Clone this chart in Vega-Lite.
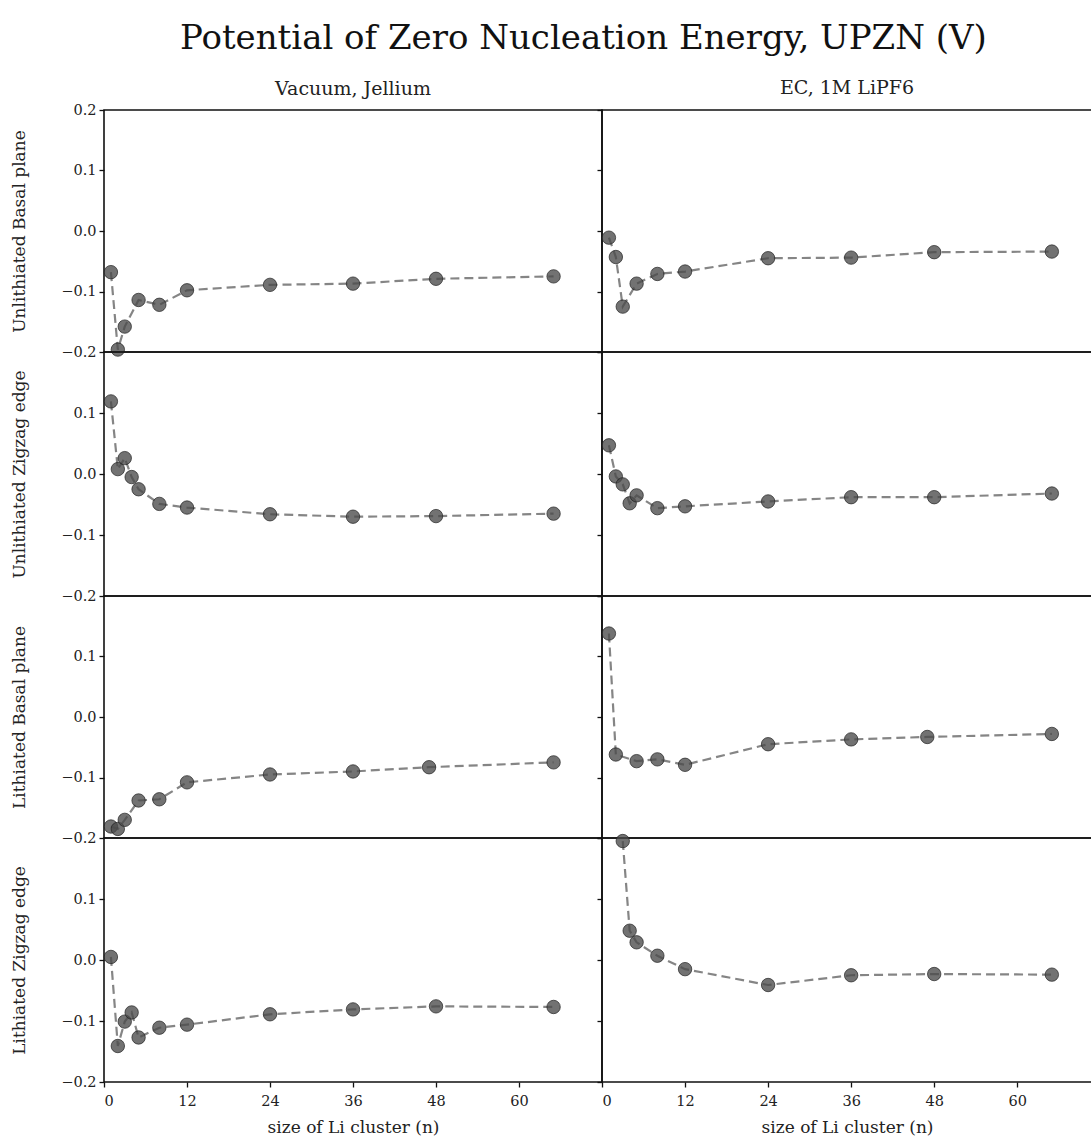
{
  "$schema": "https://vega.github.io/schema/vega-lite/v6.json",
  "padding": {"left": 9, "top": 21, "right": 0, "bottom": 0},
  "background": "white",
  "title": {"text": "Potential of Zero Nucleation Energy, UPZN (V)", "font": "DejaVu Serif", "fontSize": 34, "fontWeight": "normal", "color": "#111", "anchor": "middle", "offset": 23, "dx": 32},
  "data": {"values": [
    {"surface": "Unlithiated Basal plane", "env": "Vacuum, Jellium", "n": 1, "U": -0.068},
    {"surface": "Unlithiated Basal plane", "env": "Vacuum, Jellium", "n": 2, "U": -0.196},
    {"surface": "Unlithiated Basal plane", "env": "Vacuum, Jellium", "n": 3, "U": -0.158},
    {"surface": "Unlithiated Basal plane", "env": "Vacuum, Jellium", "n": 5, "U": -0.114},
    {"surface": "Unlithiated Basal plane", "env": "Vacuum, Jellium", "n": 8, "U": -0.122},
    {"surface": "Unlithiated Basal plane", "env": "Vacuum, Jellium", "n": 12, "U": -0.098},
    {"surface": "Unlithiated Basal plane", "env": "Vacuum, Jellium", "n": 24, "U": -0.089},
    {"surface": "Unlithiated Basal plane", "env": "Vacuum, Jellium", "n": 36, "U": -0.087},
    {"surface": "Unlithiated Basal plane", "env": "Vacuum, Jellium", "n": 48, "U": -0.079},
    {"surface": "Unlithiated Basal plane", "env": "Vacuum, Jellium", "n": 65, "U": -0.075},
    {"surface": "Unlithiated Basal plane", "env": "EC, 1M LiPF6", "n": 1, "U": -0.011},
    {"surface": "Unlithiated Basal plane", "env": "EC, 1M LiPF6", "n": 2, "U": -0.043},
    {"surface": "Unlithiated Basal plane", "env": "EC, 1M LiPF6", "n": 3, "U": -0.125},
    {"surface": "Unlithiated Basal plane", "env": "EC, 1M LiPF6", "n": 5, "U": -0.087},
    {"surface": "Unlithiated Basal plane", "env": "EC, 1M LiPF6", "n": 8, "U": -0.071},
    {"surface": "Unlithiated Basal plane", "env": "EC, 1M LiPF6", "n": 12, "U": -0.067},
    {"surface": "Unlithiated Basal plane", "env": "EC, 1M LiPF6", "n": 24, "U": -0.045},
    {"surface": "Unlithiated Basal plane", "env": "EC, 1M LiPF6", "n": 36, "U": -0.044},
    {"surface": "Unlithiated Basal plane", "env": "EC, 1M LiPF6", "n": 48, "U": -0.035},
    {"surface": "Unlithiated Basal plane", "env": "EC, 1M LiPF6", "n": 65, "U": -0.034},
    {"surface": "Unlithiated Zigzag edge", "env": "Vacuum, Jellium", "n": 1, "U": 0.119},
    {"surface": "Unlithiated Zigzag edge", "env": "Vacuum, Jellium", "n": 2, "U": 0.008},
    {"surface": "Unlithiated Zigzag edge", "env": "Vacuum, Jellium", "n": 3, "U": 0.026},
    {"surface": "Unlithiated Zigzag edge", "env": "Vacuum, Jellium", "n": 4, "U": -0.005},
    {"surface": "Unlithiated Zigzag edge", "env": "Vacuum, Jellium", "n": 5, "U": -0.025},
    {"surface": "Unlithiated Zigzag edge", "env": "Vacuum, Jellium", "n": 8, "U": -0.049},
    {"surface": "Unlithiated Zigzag edge", "env": "Vacuum, Jellium", "n": 12, "U": -0.055},
    {"surface": "Unlithiated Zigzag edge", "env": "Vacuum, Jellium", "n": 24, "U": -0.066},
    {"surface": "Unlithiated Zigzag edge", "env": "Vacuum, Jellium", "n": 36, "U": -0.070},
    {"surface": "Unlithiated Zigzag edge", "env": "Vacuum, Jellium", "n": 48, "U": -0.069},
    {"surface": "Unlithiated Zigzag edge", "env": "Vacuum, Jellium", "n": 65, "U": -0.065},
    {"surface": "Unlithiated Zigzag edge", "env": "EC, 1M LiPF6", "n": 1, "U": 0.047},
    {"surface": "Unlithiated Zigzag edge", "env": "EC, 1M LiPF6", "n": 2, "U": -0.004},
    {"surface": "Unlithiated Zigzag edge", "env": "EC, 1M LiPF6", "n": 3, "U": -0.017},
    {"surface": "Unlithiated Zigzag edge", "env": "EC, 1M LiPF6", "n": 4, "U": -0.048},
    {"surface": "Unlithiated Zigzag edge", "env": "EC, 1M LiPF6", "n": 5, "U": -0.035},
    {"surface": "Unlithiated Zigzag edge", "env": "EC, 1M LiPF6", "n": 8, "U": -0.056},
    {"surface": "Unlithiated Zigzag edge", "env": "EC, 1M LiPF6", "n": 12, "U": -0.053},
    {"surface": "Unlithiated Zigzag edge", "env": "EC, 1M LiPF6", "n": 24, "U": -0.045},
    {"surface": "Unlithiated Zigzag edge", "env": "EC, 1M LiPF6", "n": 36, "U": -0.038},
    {"surface": "Unlithiated Zigzag edge", "env": "EC, 1M LiPF6", "n": 48, "U": -0.038},
    {"surface": "Unlithiated Zigzag edge", "env": "EC, 1M LiPF6", "n": 65, "U": -0.032},
    {"surface": "Lithiated Basal plane", "env": "Vacuum, Jellium", "n": 1, "U": -0.181},
    {"surface": "Lithiated Basal plane", "env": "Vacuum, Jellium", "n": 2, "U": -0.185},
    {"surface": "Lithiated Basal plane", "env": "Vacuum, Jellium", "n": 3, "U": -0.170},
    {"surface": "Lithiated Basal plane", "env": "Vacuum, Jellium", "n": 5, "U": -0.138},
    {"surface": "Lithiated Basal plane", "env": "Vacuum, Jellium", "n": 8, "U": -0.136},
    {"surface": "Lithiated Basal plane", "env": "Vacuum, Jellium", "n": 12, "U": -0.108},
    {"surface": "Lithiated Basal plane", "env": "Vacuum, Jellium", "n": 24, "U": -0.095},
    {"surface": "Lithiated Basal plane", "env": "Vacuum, Jellium", "n": 36, "U": -0.090},
    {"surface": "Lithiated Basal plane", "env": "Vacuum, Jellium", "n": 47, "U": -0.083},
    {"surface": "Lithiated Basal plane", "env": "Vacuum, Jellium", "n": 65, "U": -0.075},
    {"surface": "Lithiated Basal plane", "env": "EC, 1M LiPF6", "n": 1, "U": 0.138},
    {"surface": "Lithiated Basal plane", "env": "EC, 1M LiPF6", "n": 2, "U": -0.062},
    {"surface": "Lithiated Basal plane", "env": "EC, 1M LiPF6", "n": 5, "U": -0.073},
    {"surface": "Lithiated Basal plane", "env": "EC, 1M LiPF6", "n": 8, "U": -0.070},
    {"surface": "Lithiated Basal plane", "env": "EC, 1M LiPF6", "n": 12, "U": -0.079},
    {"surface": "Lithiated Basal plane", "env": "EC, 1M LiPF6", "n": 24, "U": -0.045},
    {"surface": "Lithiated Basal plane", "env": "EC, 1M LiPF6", "n": 36, "U": -0.037},
    {"surface": "Lithiated Basal plane", "env": "EC, 1M LiPF6", "n": 47, "U": -0.033},
    {"surface": "Lithiated Basal plane", "env": "EC, 1M LiPF6", "n": 65, "U": -0.028},
    {"surface": "Lithiated Zigzag edge", "env": "Vacuum, Jellium", "n": 1, "U": 0.005},
    {"surface": "Lithiated Zigzag edge", "env": "Vacuum, Jellium", "n": 2, "U": -0.141},
    {"surface": "Lithiated Zigzag edge", "env": "Vacuum, Jellium", "n": 3, "U": -0.101},
    {"surface": "Lithiated Zigzag edge", "env": "Vacuum, Jellium", "n": 4, "U": -0.086},
    {"surface": "Lithiated Zigzag edge", "env": "Vacuum, Jellium", "n": 5, "U": -0.127},
    {"surface": "Lithiated Zigzag edge", "env": "Vacuum, Jellium", "n": 8, "U": -0.111},
    {"surface": "Lithiated Zigzag edge", "env": "Vacuum, Jellium", "n": 12, "U": -0.106},
    {"surface": "Lithiated Zigzag edge", "env": "Vacuum, Jellium", "n": 24, "U": -0.089},
    {"surface": "Lithiated Zigzag edge", "env": "Vacuum, Jellium", "n": 36, "U": -0.081},
    {"surface": "Lithiated Zigzag edge", "env": "Vacuum, Jellium", "n": 48, "U": -0.076},
    {"surface": "Lithiated Zigzag edge", "env": "Vacuum, Jellium", "n": 65, "U": -0.077},
    {"surface": "Lithiated Zigzag edge", "env": "EC, 1M LiPF6", "n": 3, "U": 0.195},
    {"surface": "Lithiated Zigzag edge", "env": "EC, 1M LiPF6", "n": 4, "U": 0.048},
    {"surface": "Lithiated Zigzag edge", "env": "EC, 1M LiPF6", "n": 5, "U": 0.029},
    {"surface": "Lithiated Zigzag edge", "env": "EC, 1M LiPF6", "n": 8, "U": 0.007},
    {"surface": "Lithiated Zigzag edge", "env": "EC, 1M LiPF6", "n": 12, "U": -0.015},
    {"surface": "Lithiated Zigzag edge", "env": "EC, 1M LiPF6", "n": 24, "U": -0.041},
    {"surface": "Lithiated Zigzag edge", "env": "EC, 1M LiPF6", "n": 36, "U": -0.025},
    {"surface": "Lithiated Zigzag edge", "env": "EC, 1M LiPF6", "n": 48, "U": -0.023},
    {"surface": "Lithiated Zigzag edge", "env": "EC, 1M LiPF6", "n": 65, "U": -0.024}
  ]},
  "columns": 2,
  "spacing": 0,
  "bounds": "flush",
  "resolve": {"scale": {"x": "independent", "y": "independent"}},
  "concat": [
    {"width": 498, "height": 242,
     "title": {"text": "Vacuum, Jellium", "frame": "group", "fontSize": 19, "offset": 3},
     "transform": [{"filter": "datum.surface === 'Unlithiated Basal plane' && datum.env === 'Vacuum, Jellium'"}],
     "encoding": {
       "x": {"field": "n", "type": "quantitative", "scale": {"domain": [0, 72], "nice": false, "zero": false}, "axis": null},
       "y": {"field": "U", "type": "quantitative", "scale": {"domain": [-0.2, 0.2], "nice": false}, "axis": {"values": [-0.2, -0.1, 0, 0.1, 0.2], "format": ".1f", "title": "Unlithiated Basal plane", "titlePadding": 32}}
     },
     "layer": [
       {"mark": {"type": "line", "stroke": "#858585", "strokeWidth": 2.2, "strokeDash": [9, 5]}},
       {"mark": {"type": "point", "filled": true, "size": 180, "fill": "#4a4a4a", "fillOpacity": 0.78, "stroke": "#222", "strokeWidth": 1, "strokeOpacity": 0.7}}
     ]},
    {"width": 490, "height": 242,
     "title": {"text": "EC, 1M LiPF6", "frame": "group", "fontSize": 19, "offset": 11},
     "transform": [{"filter": "datum.surface === 'Unlithiated Basal plane' && datum.env === 'EC, 1M LiPF6'"}],
     "encoding": {
       "x": {"field": "n", "type": "quantitative", "scale": {"domain": [0, 70.8], "nice": false, "zero": false}, "axis": null},
       "y": {"field": "U", "type": "quantitative", "scale": {"domain": [-0.2, 0.2], "nice": false}, "axis": {"values": [-0.2, -0.1, 0, 0.1, 0.2], "labels": false, "title": null}}
     },
     "layer": [
       {"mark": {"type": "line", "stroke": "#858585", "strokeWidth": 2.2, "strokeDash": [9, 5]}},
       {"mark": {"type": "point", "filled": true, "size": 180, "fill": "#4a4a4a", "fillOpacity": 0.78, "stroke": "#222", "strokeWidth": 1, "strokeOpacity": 0.7}}
     ]},
    {"width": 498, "height": 244,
     "transform": [{"filter": "datum.surface === 'Unlithiated Zigzag edge' && datum.env === 'Vacuum, Jellium'"}],
     "encoding": {
       "x": {"field": "n", "type": "quantitative", "scale": {"domain": [0, 72], "nice": false, "zero": false}, "axis": null},
       "y": {"field": "U", "type": "quantitative", "scale": {"domain": [-0.2, 0.2], "nice": false}, "axis": {"values": [-0.2, -0.1, 0, 0.1], "format": ".1f", "title": "Unlithiated Zigzag edge", "titlePadding": 32}}
     },
     "layer": [
       {"mark": {"type": "line", "stroke": "#858585", "strokeWidth": 2.2, "strokeDash": [9, 5]}},
       {"mark": {"type": "point", "filled": true, "size": 180, "fill": "#4a4a4a", "fillOpacity": 0.78, "stroke": "#222", "strokeWidth": 1, "strokeOpacity": 0.7}}
     ]},
    {"width": 490, "height": 244,
     "transform": [{"filter": "datum.surface === 'Unlithiated Zigzag edge' && datum.env === 'EC, 1M LiPF6'"}],
     "encoding": {
       "x": {"field": "n", "type": "quantitative", "scale": {"domain": [0, 70.8], "nice": false, "zero": false}, "axis": null},
       "y": {"field": "U", "type": "quantitative", "scale": {"domain": [-0.2, 0.2], "nice": false}, "axis": {"values": [-0.2, -0.1, 0, 0.1, 0.2], "labels": false, "title": null}}
     },
     "layer": [
       {"mark": {"type": "line", "stroke": "#858585", "strokeWidth": 2.2, "strokeDash": [9, 5]}},
       {"mark": {"type": "point", "filled": true, "size": 180, "fill": "#4a4a4a", "fillOpacity": 0.78, "stroke": "#222", "strokeWidth": 1, "strokeOpacity": 0.7}}
     ]},
    {"width": 498, "height": 242,
     "transform": [{"filter": "datum.surface === 'Lithiated Basal plane' && datum.env === 'Vacuum, Jellium'"}],
     "encoding": {
       "x": {"field": "n", "type": "quantitative", "scale": {"domain": [0, 72], "nice": false, "zero": false}, "axis": null},
       "y": {"field": "U", "type": "quantitative", "scale": {"domain": [-0.2, 0.2], "nice": false}, "axis": {"values": [-0.2, -0.1, 0, 0.1], "format": ".1f", "title": "Lithiated Basal plane", "titlePadding": 32}}
     },
     "layer": [
       {"mark": {"type": "line", "stroke": "#858585", "strokeWidth": 2.2, "strokeDash": [9, 5]}},
       {"mark": {"type": "point", "filled": true, "size": 180, "fill": "#4a4a4a", "fillOpacity": 0.78, "stroke": "#222", "strokeWidth": 1, "strokeOpacity": 0.7}}
     ]},
    {"width": 490, "height": 242,
     "transform": [{"filter": "datum.surface === 'Lithiated Basal plane' && datum.env === 'EC, 1M LiPF6'"}],
     "encoding": {
       "x": {"field": "n", "type": "quantitative", "scale": {"domain": [0, 70.8], "nice": false, "zero": false}, "axis": null},
       "y": {"field": "U", "type": "quantitative", "scale": {"domain": [-0.2, 0.2], "nice": false}, "axis": {"values": [-0.2, -0.1, 0, 0.1, 0.2], "labels": false, "title": null}}
     },
     "layer": [
       {"mark": {"type": "line", "stroke": "#858585", "strokeWidth": 2.2, "strokeDash": [9, 5]}},
       {"mark": {"type": "point", "filled": true, "size": 180, "fill": "#4a4a4a", "fillOpacity": 0.78, "stroke": "#222", "strokeWidth": 1, "strokeOpacity": 0.7}}
     ]},
    {"width": 498, "height": 244,
     "transform": [{"filter": "datum.surface === 'Lithiated Zigzag edge' && datum.env === 'Vacuum, Jellium'"}],
     "encoding": {
       "x": {"field": "n", "type": "quantitative", "scale": {"domain": [0, 72], "nice": false, "zero": false}, "axis": {"values": [0, 12, 24, 36, 48, 60], "title": "size of Li cluster (n)", "labelPadding": 7, "titlePadding": 12}},
       "y": {"field": "U", "type": "quantitative", "scale": {"domain": [-0.2, 0.2], "nice": false}, "axis": {"values": [-0.2, -0.1, 0, 0.1], "format": ".1f", "title": "Lithiated Zigzag edge", "titlePadding": 32}}
     },
     "layer": [
       {"mark": {"type": "line", "stroke": "#858585", "strokeWidth": 2.2, "strokeDash": [9, 5]}},
       {"mark": {"type": "point", "filled": true, "size": 180, "fill": "#4a4a4a", "fillOpacity": 0.78, "stroke": "#222", "strokeWidth": 1, "strokeOpacity": 0.7}}
     ]},
    {"width": 490, "height": 244,
     "transform": [{"filter": "datum.surface === 'Lithiated Zigzag edge' && datum.env === 'EC, 1M LiPF6'"}],
     "encoding": {
       "x": {"field": "n", "type": "quantitative", "scale": {"domain": [0, 70.8], "nice": false, "zero": false}, "axis": {"values": [0, 12, 24, 36, 48, 60], "title": "size of Li cluster (n)", "labelPadding": 7, "titlePadding": 12}},
       "y": {"field": "U", "type": "quantitative", "scale": {"domain": [-0.2, 0.2], "nice": false}, "axis": {"values": [-0.2, -0.1, 0, 0.1, 0.2], "labels": false, "title": null}}
     },
     "layer": [
       {"mark": {"type": "line", "stroke": "#858585", "strokeWidth": 2.2, "strokeDash": [9, 5]}},
       {"mark": {"type": "point", "filled": true, "size": 180, "fill": "#4a4a4a", "fillOpacity": 0.78, "stroke": "#222", "strokeWidth": 1, "strokeOpacity": 0.7}}
     ]}
  ],
  "config": {
    "view": {"stroke": "#111", "strokeWidth": 1.6},
    "axis": {"domain": false, "grid": false, "tickColor": "#111", "tickSize": 5, "tickWidth": 1.3, "labelFont": "DejaVu Serif", "labelFontSize": 14.5, "labelColor": "#222", "labelPadding": 3, "titleFont": "DejaVu Serif", "titleFontSize": 17, "titleFontWeight": "normal", "titleColor": "#222"},
    "title": {"font": "DejaVu Serif", "fontWeight": "normal", "color": "#222"}
  }
}
